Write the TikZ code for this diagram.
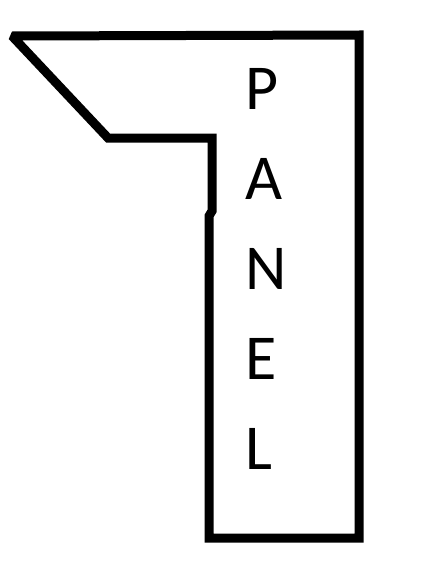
\documentclass[tikz,border=0pt]{standalone}
\usepackage{fontspec}
\setmainfont{Carlito}
\begin{document}
\begin{tikzpicture}[x=1pt,y=-1pt,
  outline/.style={line width=9pt,line join=miter,miter limit=2},
  letter/.style={font=\fontsize{64}{64}\selectfont,inner sep=0pt,anchor=base west}]
\useasboundingbox (0,0) rectangle (439,573);
\coordinate (tl) at (12,36);
\coordinate (tr) at (359,35);
\coordinate (br) at (359,538);
\coordinate (bl) at (209,538);
\coordinate (jl) at (209,216);
\coordinate (ju) at (212,211);
\coordinate (ic) at (212,138);
\coordinate (nk) at (108,138);
\draw[outline] (tl) -- (tr) -- (br) -- (bl) -- (jl) -- (ju) -- (ic) -- (nk) -- cycle;
\node[letter] (p) at (245,109) {P};
\node[letter] (a) at (245,199) {A};
\node[letter] (n) at (245,289) {N};
\node[letter] (e) at (245,379) {E};
\node[letter] (l) at (245,469) {L};
\end{tikzpicture}
\end{document}
